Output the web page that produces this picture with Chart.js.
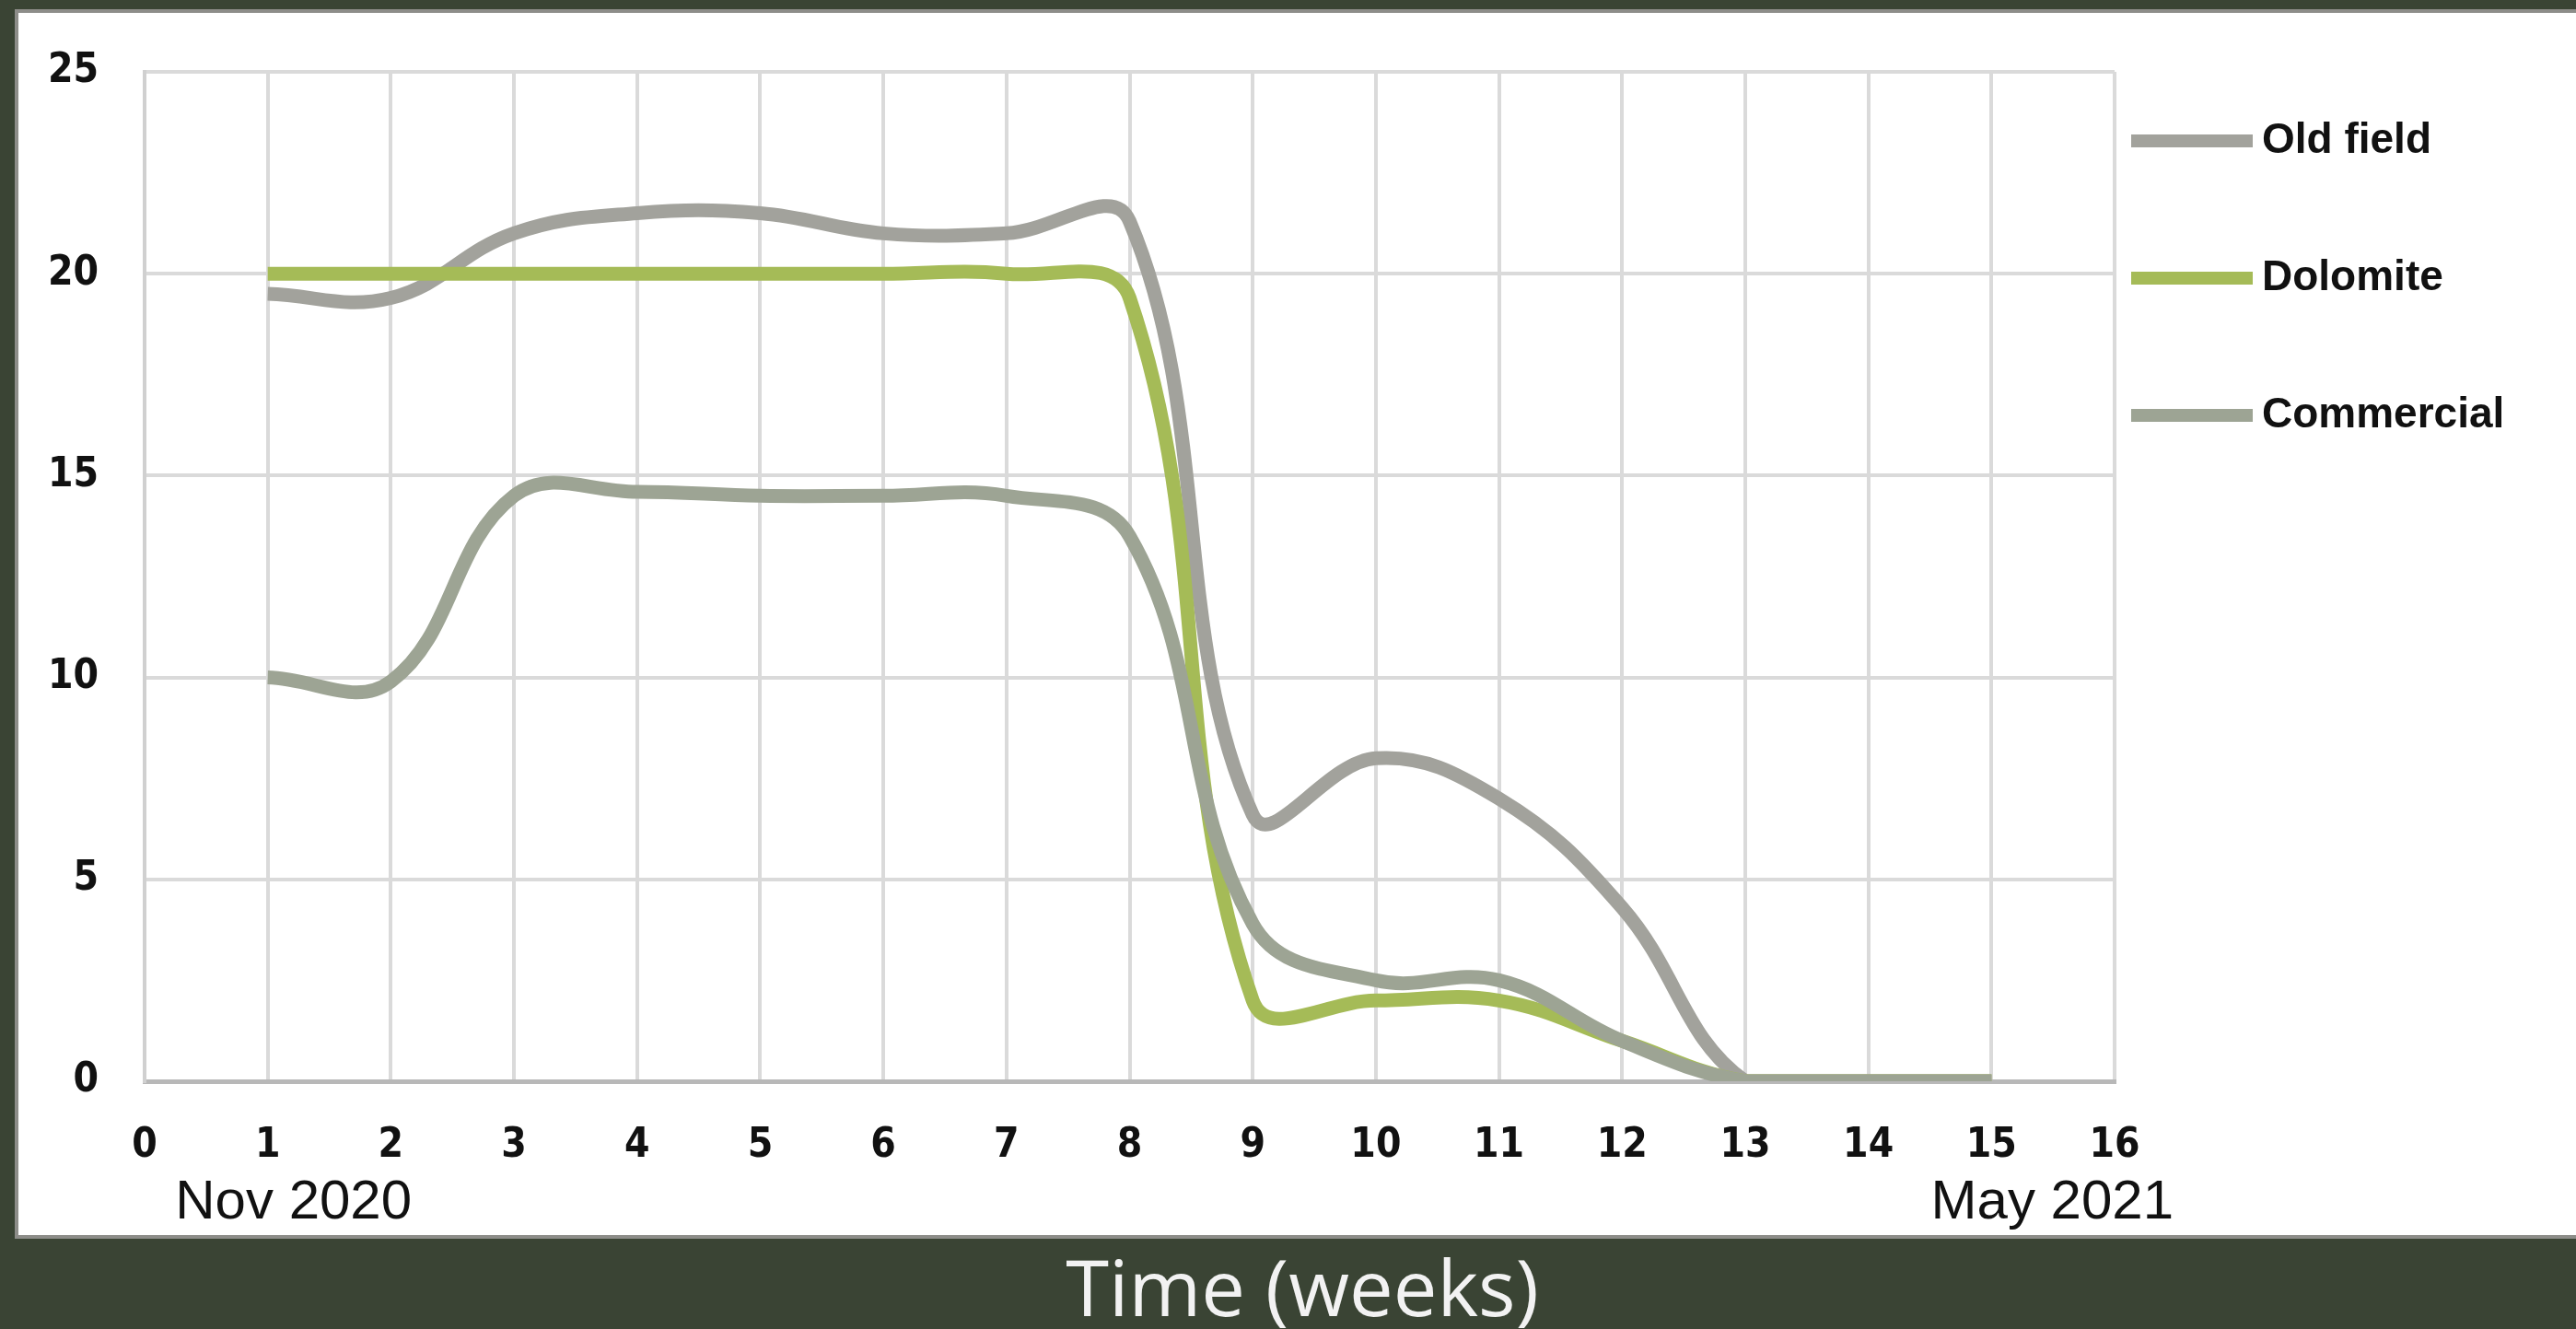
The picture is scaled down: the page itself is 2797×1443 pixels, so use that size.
<!DOCTYPE html>
<html>
<head>
<meta charset="utf-8">
<script src="https://cdn.jsdelivr.net/npm/chart.js@4/dist/chart.umd.min.js"></script>
<style>
  html, body { margin: 0; padding: 0; }
  body { width: 2797px; height: 1443px; background: #3a4434; position: relative; overflow: hidden; }
  #panel { position: absolute; left: 16px; top: 10px; width: 2790px; height: 1327px; background: #fff; border: 4px solid #8d8d89; }
  #cv { position: absolute; left: 0; top: 0; }
  #xtitle { position: absolute; left: 0; width: 2828px; top: 1346px; text-align: center;
            font: 400 85px "Open Sans", sans-serif; color: #f2f2f2; line-height: 100px; }
</style>
</head>
<body>
<div id="panel"></div>
<canvas id="cv" width="2797" height="1443"></canvas>
<div id="xtitle">Time (weeks)</div>
<script>
// weeks since first sampling
const weeks = [1, 2, 3, 4, 5, 6, 7, 8, 9, 10, 11, 12, 13, 14, 15];
const oldField   = [19.5, 19.4, 21, 21.5, 21.5, 21, 21, 21.3, 6.6, 8, 7, 4.3, 0, 0, 0];
const dolomite   = [20, 20, 20, 20, 20, 20, 20, 19.4, 2, 2, 2, 1, 0, 0, 0];
const commercial = [10, 9.9, 14.5, 14.6, 14.5, 14.5, 14.5, 13.5, 3.9, 2.5, 2.5, 1, 0, 0, 0];
const seriesNames = ['Old field', 'Dolomite', 'Commercial'];
const seriesColors = ['#a2a29c', '#a5bb57', '#9da494'];
const startLabel = 'Nov 2020';
const endLabel = 'May 2021';

const pts = vals => weeks.map((w, i) => ({ x: w, y: vals[i] }));

const tickFont = { family: '"Liberation Sans Narrow", "DejaVu Sans Condensed", "Liberation Sans"', size: 44, weight: 'bold' };

// legend drawn by hand so it sits where the original one does
const sideLegend = {
  id: 'sideLegend',
  afterDraw(chart) {
    const ctx = chart.ctx;
    ctx.save();
    ctx.font = 'bold 46px "Liberation Sans", sans-serif';
    ctx.textBaseline = 'middle';
    chart.data.datasets.forEach((ds, i) => {
      const y = 153 + i * 149;
      ctx.strokeStyle = ds.borderColor;
      ctx.lineWidth = 14;
      ctx.beginPath();
      ctx.moveTo(2314, y);
      ctx.lineTo(2446, y);
      ctx.stroke();
      ctx.fillStyle = '#111';
      ctx.fillText(ds.label, 2456, y);
    });
    ctx.restore();
  }
};

const dateNotes = {
  id: 'dateNotes',
  afterDraw(chart) {
    const ctx = chart.ctx, xs = chart.scales.x;
    ctx.save();
    ctx.font = '60px "Liberation Sans", sans-serif';
    ctx.fillStyle = '#111';
    ctx.textAlign = 'center';
    ctx.textBaseline = 'middle';
    ctx.fillText(startLabel, xs.getPixelForValue(weeks[0]) + 28, 1306);
    ctx.fillText(endLabel, xs.getPixelForValue(weeks[weeks.length - 1]) + 66, 1306);
    ctx.restore();
  }
};

new Chart(document.getElementById('cv').getContext('2d'), {
  type: 'line',
  data: {
    datasets: [oldField, dolomite, commercial].map((v, i) => ({
      label: seriesNames[i], data: pts(v),
      borderColor: seriesColors[i], borderWidth: 15, pointRadius: 0,
      tension: 0.4, fill: false, order: 2 - i
    }))
  },
  options: {
    responsive: false, animation: false, devicePixelRatio: 1,
    layout: { padding: { left: 0, right: 501, top: 78, bottom: 169 } },
    plugins: { legend: { display: false }, tooltip: { enabled: false } },
    scales: {
      x: {
        type: 'linear', min: 0, max: 16,
        afterFit: s => { s.height = 100; },
        ticks: { stepSize: 1, autoSkip: false, padding: 44, color: '#111', font: tickFont },
        grid: { color: '#dadada', lineWidth: 4, drawTicks: false },
        border: { color: '#b8b8b8', width: 5 }
      },
      y: {
        min: 0, max: 25,
        afterFit: s => { s.width = 157; },
        ticks: { stepSize: 5, padding: 50, color: '#111', font: tickFont },
        grid: { color: '#dadada', lineWidth: 4, drawTicks: false },
        border: { color: '#d0d0d0', width: 4 }
      }
    }
  },
  plugins: [sideLegend, dateNotes]
});
</script>
</body>
</html>
